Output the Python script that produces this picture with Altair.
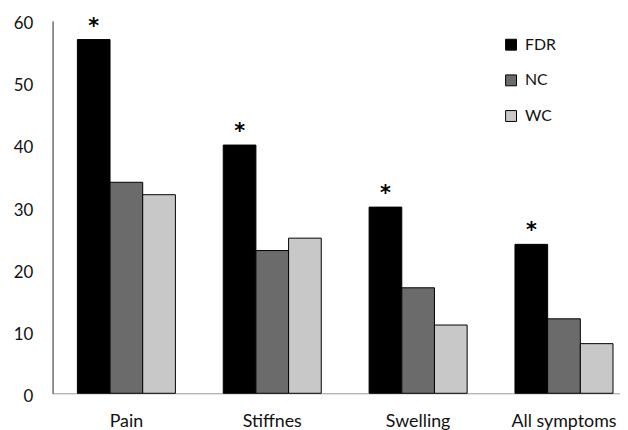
import altair as alt
import pandas as pd

categories = ["Pain", "Stiffnes", "Swelling", "All symptoms"]
groups = ["FDR", "NC", "WC"]
fdr = [57, 40, 30, 24]
nc = [34, 23, 17, 12]
wc = [32, 25, 11, 8]
significant = ["*", "*", "*", "*"]
colors = ["#000000", "#6b6b6b", "#c8c8c8"]
y_ticks = [0, 10, 20, 30, 40, 50, 60]

rows = []
for i, c in enumerate(categories):
    for g, vals in zip(groups, [fdr, nc, wc]):
        rows.append({"category": c, "group": g, "value": vals[i]})
df = pd.DataFrame(rows)
star_df = pd.DataFrame({"category": categories, "group": ["FDR"] * len(categories),
                        "value": fdr, "mark": significant})

FONT = "Lato"

x = alt.X("category:N", sort=categories, title=None,
          scale=alt.Scale(paddingInner=0.328, paddingOuter=0.109, align=0.78),
          axis=alt.Axis(labelAngle=0, ticks=False, tickSize=0, labelPadding=20,
                        labelFontSize=18, labelFont=FONT, labelColor="#111",
                        domainColor="#9a9a9a", domainWidth=1))
xo = alt.XOffset("group:N", sort=groups,
                 scale=alt.Scale(domain=groups, paddingInner=0, paddingOuter=0))
y = alt.Y("value:Q", title=None,
          scale=alt.Scale(domain=[0, 60], nice=False),
          axis=alt.Axis(values=y_ticks, grid=False, ticks=False, tickSize=0,
                        labelPadding=20, labelOffset=3, labelFontSize=17, labelFont=FONT,
                        labelColor="#111", domainColor="#222", domainWidth=1))

bars = alt.Chart(df).mark_bar(stroke="black", strokeWidth=1).encode(
    x=x, xOffset=xo, y=y,
    color=alt.Color("group:N", sort=groups,
                    scale=alt.Scale(domain=groups, range=colors),
                    legend=alt.Legend(title=None, orient="none", legendX=455, legendY=16,
                                      symbolType="square", symbolSize=121,
                                      symbolStrokeColor="black", symbolStrokeWidth=1,
                                      labelFontSize=16, labelFont=FONT, labelColor="#111",
                                      labelOffset=6, rowPadding=20, padding=0)),
)

stars = alt.Chart(star_df).mark_text(fontSize=21, font="DejaVu Sans", fontWeight="bold",
                                     baseline="middle", dy=-13, color="black").encode(
    x=x, xOffset=xo, y=y, text="mark:N"
)

chart = alt.layer(bars, stars).properties(
    width=573, height=376,
    padding={"left": 45, "top": 11, "right": 0, "bottom": 35},
    autosize=alt.AutoSizeParams(type="none"),
    background="white",
).configure_view(stroke=None)

chart.save("out.html", embed_options={"renderer": "svg", "actions": False})
